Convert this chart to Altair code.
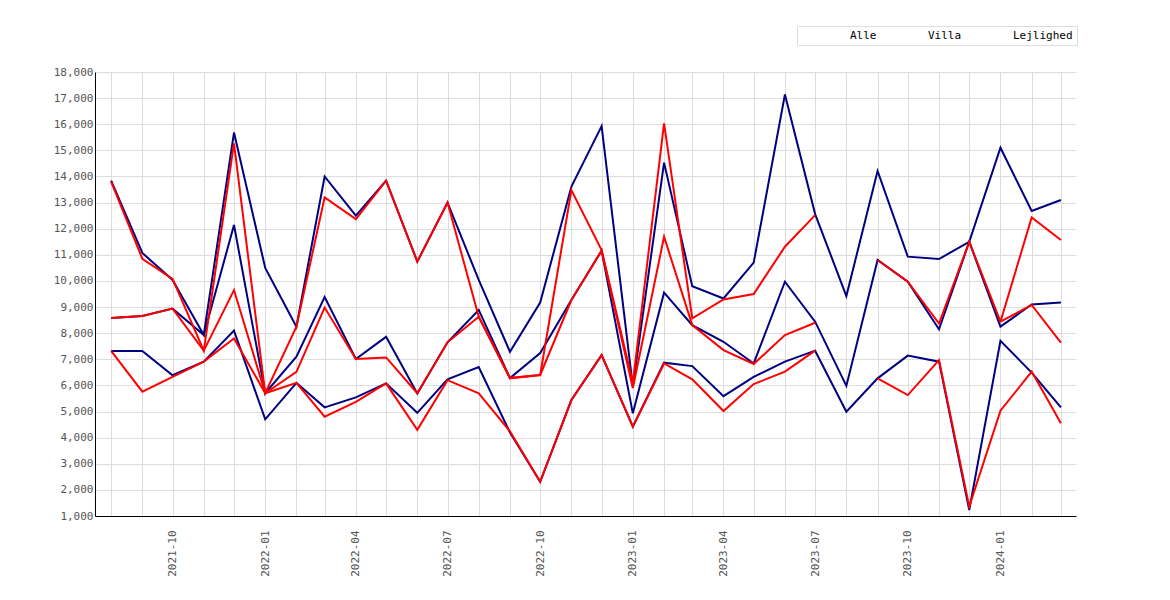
import pandas as pd
import altair as alt

months = pd.date_range("2021-08-01", "2024-03-01", freq="MS").strftime("%Y-%m-%d").tolist()

alle_top = [13840, 11070, 10040, 7930, 15680, 10500, 8250, 14000, 12500, 13840, 10740, 13000,
            10040, 7290, 9170, 13610, 15930, 5950, 14530, 9800, 9330, 10700, 17140, 12560,
            9420, 14210, 10930, 10840, 11500, 15100, 12680, 13100]
alle_mid = [8580, 8660, 8940, 7930, 12140, 5700, 7100, 9380, 7010, 7860, 5690, 7650,
            8890, 6280, 7240, 9270, 11160, 4930, 9550, 8310, 7670, 6840, 9970, 8440,
            5980, 10800, 9970, 8150, 11500, 8250, 9100, 9170]
alle_low = [7320, 7320, 6390, 6910, 8100, 4700, 6100, 5160, 5540, 6080, 4950, 6230,
            6700, 4200, 2310, 5440, 7160, 4420, 6870, 6740, 5590, 6330, 6910, 7330,
            4990, 6270, 7140, 6910, 1230, 7710, 6490, 5160]
N = None
villa_top = [13800, 10850, 10080, 7330, 15270, 5700, 8250, 13200, 12370, 13840, 10740, 13000,
             8630, 6280, 6400, 13480, 11180, 6100, 16030, 8570, 9290, 9500, 11310, 12520,
             N, N, N, N, N, 8440, 12430, 11570]
villa_mid = [8580, 8660, 8940, 7330, 9650, 5700, 6520, 8980, 7010, 7070, 5700, 7650,
             8630, 6280, 6400, 9270, 11160, 5900, 11690, 8310, 7350, 6820, 7930, 8400,
             N, 10800, 9970, 8370, 11500, 8440, 9080, 7640]
villa_low = [7320, 5760, 6330, 6910, 7800, 5700, 6100, 4800, 5370, 6080, 4300, 6200,
             5700, 4240, 2310, 5440, 7160, 4420, 6840, 6230, 5020, 6050, 6530, 7330,
             N, 6270, 5630, 6970, 1360, 5030, 6530, 4550]

series = {"a1": alle_top, "a2": alle_mid, "a3": alle_low,
          "v1": villa_top, "v2": villa_mid, "v3": villa_low}
rows = []
for key, vals in series.items():
    for m, v in zip(months, vals):
        rows.append({"month": m, "key": key, "value": v})
df = pd.DataFrame(rows)

keys = ["a1", "a2", "a3", "v1", "v2", "v3", "l1", "l2", "l3"]
colors = ["#000080"] * 3 + ["#ff0000"] * 3 + ["#00dd00"] * 3
FONT = "DejaVu Sans Mono"

chart = alt.Chart(df).mark_line(strokeWidth=2, invalid="break-paths-show-domains").encode(
    x=alt.X("month:T",
            scale=alt.Scale(domain=[alt.DateTime(year=2021, month=7, date=16),
                                    alt.DateTime(year=2024, month=3, date=16)]),
            axis=alt.Axis(title=None, tickCount={"interval": "month", "step": 1},
                          format="%Y-%m", labelAngle=-90, labelAlign="right",
                          labelBaseline="middle", labelPadding=14,
                          labelExpr="month(datum.value) % 3 == 0 ? datum.label : ''",
                          ticks=False, domainColor="black", labelColor="#555")),
    y=alt.Y("value:Q", scale=alt.Scale(domain=[1000, 18000], nice=False, zero=False),
            axis=alt.Axis(title=None, values=list(range(1000, 18001, 1000)),
                          ticks=False, domainColor="black", labelColor="#555")),
    color=alt.Color("key:N", scale=alt.Scale(domain=keys, range=colors),
                    legend=alt.Legend(title=None, orient="none", legendX=702, legendY=-46,
                                      direction="horizontal", symbolType="square",
                                      symbolSize=40, symbolStrokeWidth=0, symbolOpacity=1,
                                      columnPadding=2, labelLimit=80,
                                      labelExpr="datum.label == 'a3' ? 'Alle' : datum.label == 'v3' ? 'Villa' : datum.label == 'l3' ? 'Lejlighed' : ''",
                                      strokeColor="#ddd", padding=4, labelFontSize=11)),
).properties(
    width=981, height=444, autosize=alt.AutoSizeParams(type="none"),
    padding={"left": 87, "top": 64, "right": 80, "bottom": 70},
).configure_axis(
    gridColor="#dddddd", labelFont=FONT, labelFontSize=11
).configure_legend(labelFont=FONT).configure_view(stroke=None)

chart.save("out.html", embed_options={"renderer": "svg", "actions": False})
